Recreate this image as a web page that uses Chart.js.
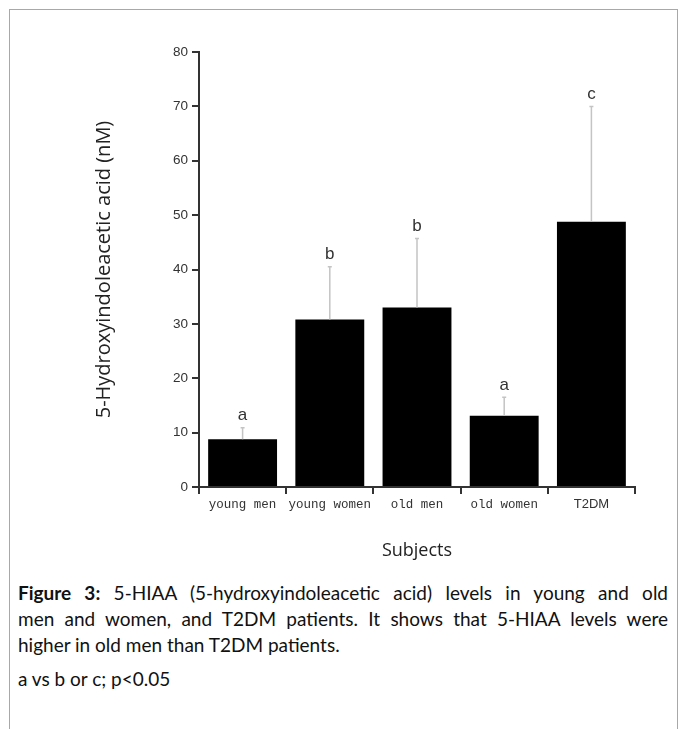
<!DOCTYPE html>
<html>
<head>
<meta charset="utf-8">
<script src="https://cdn.jsdelivr.net/npm/chart.js@4.4.1/dist/chart.umd.min.js"></script>
<style>
  html, body { margin: 0; padding: 0; background: #fff; }
  body { width: 686px; height: 729px; position: relative; overflow: hidden; }
  #frame {
    position: absolute; left: 9px; top: 9px; width: 669px; height: 760px;
    border: 1px solid #a8a8a8; box-sizing: border-box;
  }
  #plot { position: absolute; left: 0; top: 0; }
  #caption {
    position: absolute; left: 18px; top: 580px; width: 650px;
    font-family: Lato, "Open Sans", sans-serif; font-size: 19px; color: #111;
    line-height: 26px;
  }
  #caption .ln { text-align: justify; text-align-last: justify; white-space: nowrap; }
  #caption .last { text-align: left; text-align-last: left; }
  #caption .note { margin-top: 8px; }
</style>
</head>
<body>
<div id="frame"></div>
<canvas id="plot" width="686" height="580"></canvas>
<div id="caption">
  <div class="ln"><b>Figure 3:</b> 5-HIAA (5-hydroxyindoleacetic acid) levels in young and old</div>
  <div class="ln">men and women, and T2DM patients. It shows that 5-HIAA levels were</div>
  <div class="ln last">higher in old men than T2DM patients.</div>
  <div class="ln last note">a vs b or c; p&lt;0.05</div>
</div>
<script>
// Group names on the x axis
const categories = ['young men', 'young women', 'old men', 'old women', 'T2DM'];
// Mean 5-HIAA concentration per group (nM)
const means = [8.8, 30.8, 33.0, 13.1, 48.8];
// Upper error (SD) per group (nM)
const errors = [2.1, 9.7, 12.7, 3.4, 21.2];
// Significance letters above each error bar
const letters = ['a', 'b', 'b', 'a', 'c'];
// Y axis range and step
const yMin = 0, yMax = 80, yStep = 10;

const axisColor = '#333';

// Draws the upward SD whiskers and the group letters above them
const errorBarPlugin = {
  id: 'errorBars',
  afterDatasetsDraw(chart) {
    const meta = chart.getDatasetMeta(0);
    const yScale = chart.scales.y;
    const ctx = chart.ctx;
    ctx.save();
    meta.data.forEach((bar, i) => {
      const x = bar.x;
      const yTop = yScale.getPixelForValue(means[i] + errors[i]);
      ctx.strokeStyle = '#c4c4c4';
      ctx.lineWidth = 1.5;
      ctx.beginPath();
      ctx.moveTo(x, bar.y);
      ctx.lineTo(x, yTop);
      ctx.moveTo(x - 2, yTop);
      ctx.lineTo(x + 2, yTop);
      ctx.stroke();
      ctx.fillStyle = '#333';
      ctx.font = '17px "Liberation Sans", Arial, sans-serif';
      ctx.textAlign = 'center';
      ctx.textBaseline = 'middle';
      ctx.fillText(letters[i], x, yTop - 12);
    });
    ctx.restore();
  }
};

new Chart(document.getElementById('plot'), {
  type: 'bar',
  data: {
    labels: categories,
    datasets: [{
      data: means,
      backgroundColor: '#000',
      borderWidth: 0,
      barPercentage: 0.79,
      categoryPercentage: 1.0
    }]
  },
  options: {
    responsive: false,
    animation: false,
    events: [],
    layout: { padding: { left: 0, top: 52, right: 51, bottom: 0 } },
    plugins: { legend: { display: false }, tooltip: { enabled: false } },
    scales: {
      x: {
        offset: true,
        grid: { offset: true, drawOnChartArea: false, drawTicks: true, tickLength: 7, color: axisColor, tickColor: axisColor, lineWidth: 2 },
        border: { display: true, color: axisColor, width: 2 },
        ticks: {
          color: '#333',
          padding: 3,
          maxRotation: 0,
          autoSkip: false,
          font: (c) => c.index === 4
            ? { family: '"Liberation Sans", Arial, sans-serif', size: 13 }
            : { family: '"Liberation Mono", "DejaVu Sans Mono", monospace', size: 12.5 }
        },
        title: {
          display: true,
          text: 'Subjects',
          color: '#222',
          font: { family: '"Open Sans", sans-serif', size: 18 },
          padding: { top: 0, bottom: 18 }
        },
        afterFit(s) { s.height = 93; }
      },
      y: {
        min: yMin,
        max: yMax,
        grid: { drawOnChartArea: false, drawTicks: true, tickLength: 7, color: axisColor, tickColor: axisColor, lineWidth: 2 },
        border: { display: true, color: axisColor, width: 2 },
        ticks: {
          stepSize: yStep,
          color: '#333',
          padding: 4,
          font: { family: '"Liberation Sans", Arial, sans-serif', size: 13.5 }
        },
        title: {
          display: true,
          text: '5-Hydroxyindoleacetic acid (nM)',
          color: '#222',
          font: { family: '"Open Sans", sans-serif', size: 20 },
          padding: { top: 92, bottom: 0 }
        },
        afterFit(s) { s.width = 199; }
      }
    }
  },
  plugins: [errorBarPlugin]
});
</script>
</body>
</html>
